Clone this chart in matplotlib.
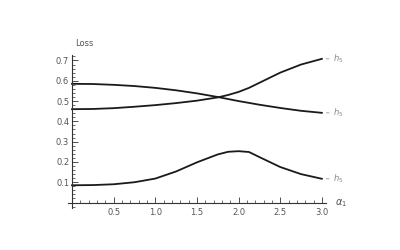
import matplotlib
matplotlib.use("Agg")
import matplotlib.pyplot as plt
from matplotlib.ticker import MultipleLocator, FixedLocator

alpha = [0.0, 0.25, 0.5, 0.75, 1.0, 1.25, 1.5, 1.75, 1.875, 2.0, 2.125, 2.25, 2.5, 2.75, 3.0]
loss_a = [0.585, 0.584, 0.58, 0.574, 0.565, 0.553, 0.538, 0.52, 0.51, 0.50, 0.491, 0.482, 0.466, 0.452, 0.442]
loss_b = [0.46, 0.461, 0.465, 0.472, 0.48, 0.49, 0.502, 0.518, 0.53, 0.545, 0.565, 0.59, 0.64, 0.68, 0.708]
loss_c = [0.085, 0.086, 0.09, 0.10, 0.118, 0.153, 0.198, 0.237, 0.25, 0.253, 0.249, 0.224, 0.175, 0.14, 0.117]
series_labels = ["$h_5$", "$h_5$", "$h_5$"]
xticks = [0.5, 1.0, 1.5, 2.0, 2.5, 3.0]
yticks = [0.1, 0.2, 0.3, 0.4, 0.5, 0.6, 0.7]

fig = plt.figure(figsize=(4, 2.5), dpi=100)
ax = fig.add_axes([0.17, 0.168, 0.645, 0.612])
ax.set_xlim(-0.048, 3.05)
ax.set_ylim(-0.027, 0.727)

for ys, lab in zip([loss_a, loss_b, loss_c], series_labels):
    ax.plot(alpha, ys, color="#1a1a1a", lw=1.3, clip_on=False,
            solid_joinstyle="round")
    ax.annotate("", xy=(3.0 + 0.02, ys[-1]), xytext=(3.0 + 0.12, ys[-1]),
                arrowprops=dict(arrowstyle="-", color="#999999", lw=0.6),
                annotation_clip=False)
    ax.text(3.14, ys[-1], lab, color="#888888", fontsize=6, va="center",
            ha="left", clip_on=False)

for s in ["top", "right"]:
    ax.spines[s].set_visible(False)
ax.spines["left"].set_position(("data", 0))
ax.spines["bottom"].set_position(("data", 0))
for s in ["left", "bottom"]:
    ax.spines[s].set_color("#333333")
    ax.spines[s].set_linewidth(0.8)

ax.xaxis.set_major_locator(FixedLocator(xticks))
ax.yaxis.set_major_locator(FixedLocator(yticks))
ax.xaxis.set_minor_locator(MultipleLocator(0.1))
ax.yaxis.set_minor_locator(MultipleLocator(0.02))
ax.set_xticklabels([f"{v:.1f}" for v in xticks])
ax.set_yticklabels([f"{v:.1f}" for v in yticks])
ax.tick_params(axis="both", which="major", direction="in", length=4, width=0.6,
               color="#333333", labelsize=6, labelcolor="#555555", pad=2)
ax.tick_params(axis="both", which="minor", direction="in", length=2, width=0.5,
               color="#333333")
ax.tick_params(axis="x", which="major", pad=4)

fig.text(75 / 400, 1 - 44 / 250, "Loss", fontsize=6, color="#555555",
         ha="left", va="center")
fig.text(335 / 400, 1 - 203 / 250, r"$\alpha_1$", fontsize=7, color="#555555",
         ha="left", va="center")

fig.savefig("out.png", dpi=100)
